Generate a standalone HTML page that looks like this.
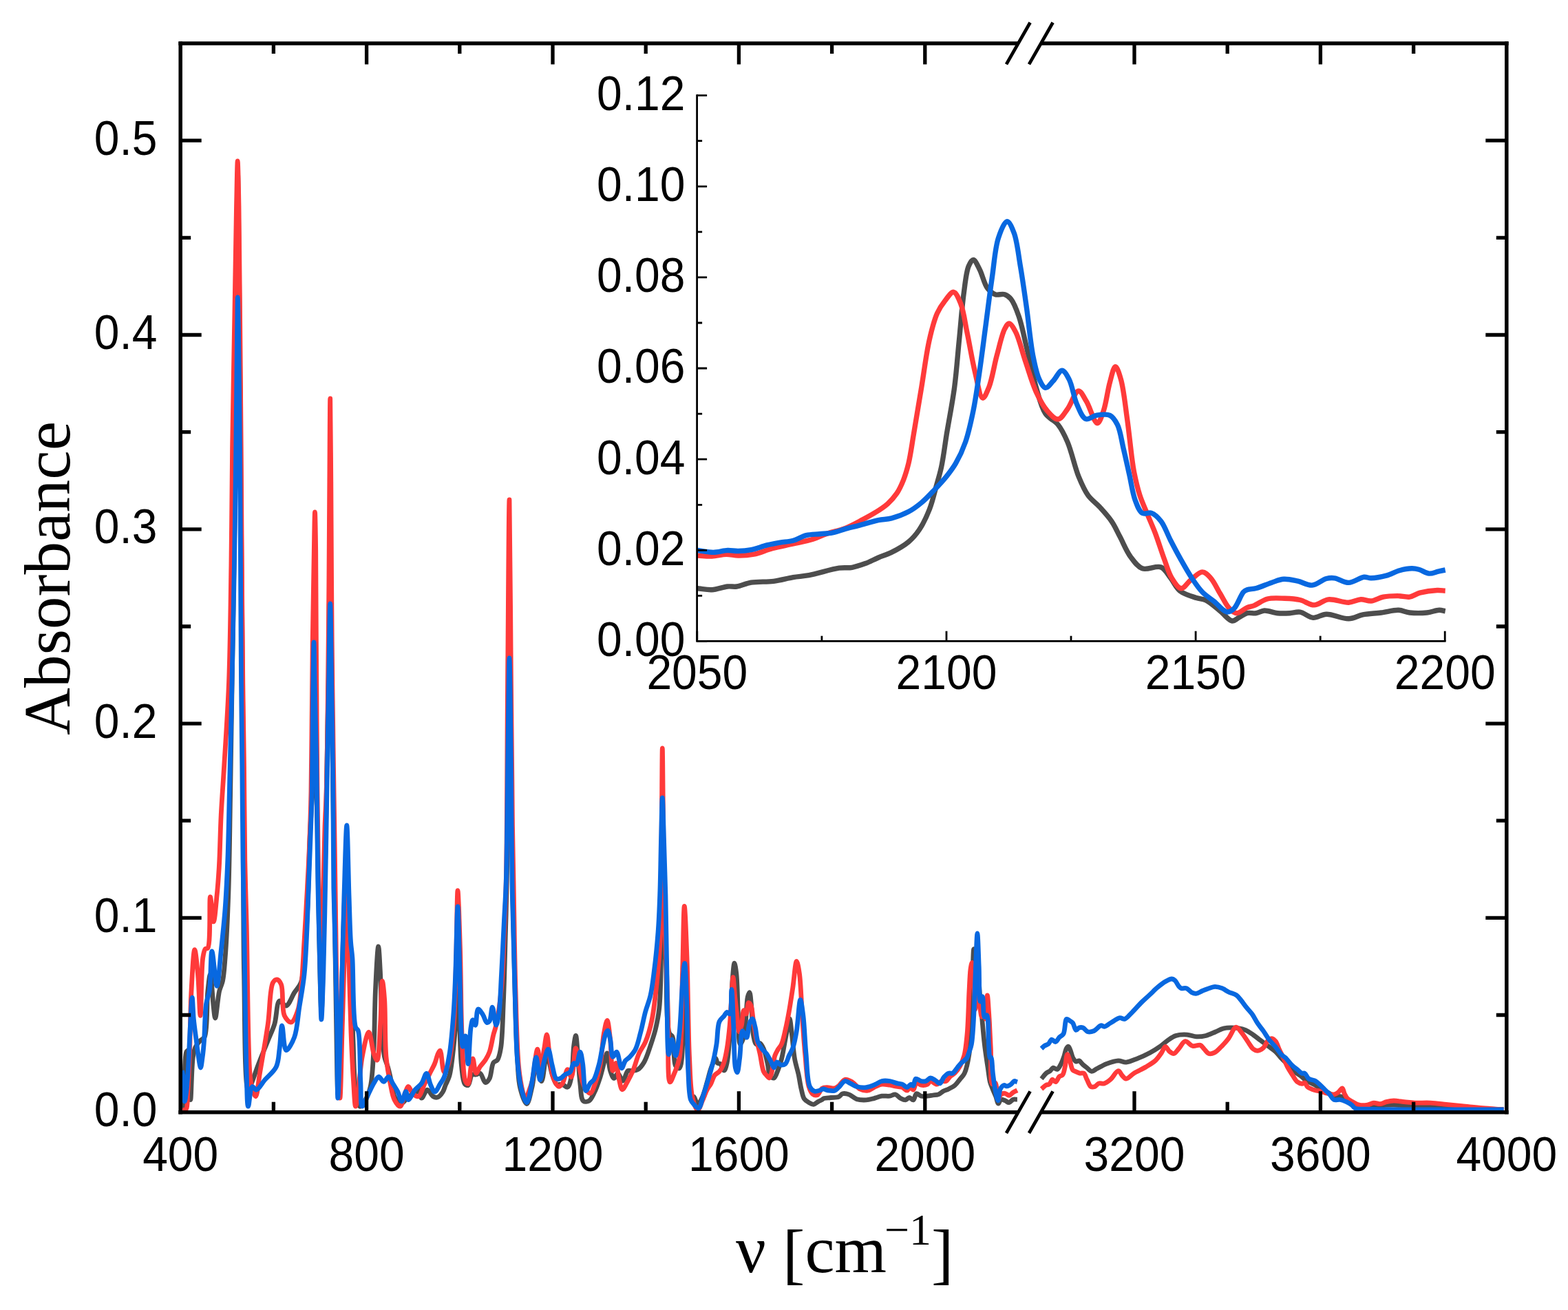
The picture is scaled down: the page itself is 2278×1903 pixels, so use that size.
<!DOCTYPE html><html><head><meta charset="utf-8"><title>Absorbance spectrum</title><style>html,body{margin:0;padding:0;background:#fff;}svg{display:block;}</style></head><body>
<svg width="2278" height="1903" viewBox="0 0 2278 1903">
<rect width="2278" height="1903" fill="#fff"/>
<path d="M264.5,1612 C265.4,1608.8 266.4,1607.2 267.2,1602.4 C269.3,1589.4 266.6,1535.6 270.8,1528.1 C271.8,1526.3 273.4,1525.2 274.4,1525.7 C278.5,1527.8 275.7,1597.6 276.8,1597.6 C277.8,1597.6 278.3,1548.7 280.4,1535.3 C281.4,1528.8 282,1525.1 284,1521 C285.8,1517.3 288.7,1513.9 291.1,1511.4 C293.1,1509.4 295.5,1509.7 297.1,1506.6 C301.9,1497.4 300,1456.2 301.9,1439.5 C303,1429.5 304.3,1415.6 305.5,1415.6 C307.2,1415.6 308.8,1451.9 310.3,1463.5 C311.1,1470.1 311.7,1479 312.7,1479 C314.3,1479 316.3,1449.3 318.7,1439.5 C320.2,1433.4 322.2,1431 323.5,1425.1 C325.4,1416.3 326,1405.7 327.1,1391.6 C329,1367.9 330.7,1330.5 331.9,1295.8 C333.3,1254.5 333.7,1207.1 334.5,1160 C335.4,1108.9 336.1,1054.9 337,1000 C337.9,941.8 339.1,879.1 340,820 C340.9,762.5 341.8,712.1 342.5,650 C343.4,574.7 344,472.5 344.5,400 C344.9,344.2 345,252 345.5,252 C346,252 346.9,344.2 347.5,400 C348.3,472.5 348.9,574.7 349.5,650 C350,712.1 350.5,762.5 351,820 C351.5,879.1 352.1,942.7 352.5,1000 C352.9,1052.3 353.2,1092.9 353.5,1150 C353.9,1226 353,1337.2 354.6,1415.6 C355.8,1477.9 355.1,1582 360.6,1583.2 C362,1583.5 363.7,1577.7 365.4,1573.7 C368.2,1567.2 371.4,1556.7 375,1547.3 C379.2,1536.2 385,1522.2 389.3,1511.4 C392.8,1502.6 396.2,1496.2 398.9,1487.4 C402,1477.3 401.8,1455.5 406.1,1453.9 C408.6,1453 412.6,1461.7 415.7,1461.1 C419.9,1460.3 423.9,1447.8 427.7,1441.9 C431,1436.7 434.9,1433.7 437.2,1427.5 C440.6,1418.5 440.6,1405.6 442,1391.6 C444,1371.8 445.5,1345.7 446.8,1319.8 C448.3,1289.3 448.8,1250.3 450,1220 C451,1194.6 452.6,1178.4 453.5,1150 C454.9,1105.7 455.1,980 456,980 C456.8,980 457.6,1061.8 458.5,1100 C459.3,1134.9 460.2,1163.3 461,1200 C461.9,1244.9 462.4,1302.8 463.5,1350 C464.5,1392.2 465.8,1470 467,1470 C468.2,1470 469.5,1392.2 470.5,1350 C471.7,1302.8 472.6,1250 473.5,1200 C474.4,1150 474.9,1098.2 476,1050 C477,1005.1 478.4,920 479.5,920 C480.6,920 481.7,1005.1 482.5,1050 C483.4,1098.2 483.8,1150 484.5,1200 C485.2,1250 485.8,1301.8 486.5,1350 C487.1,1394.9 487.7,1438.5 488.5,1480 C489.2,1518.2 489.9,1590 491,1590 C492.3,1590 494.5,1495.8 496,1450 C497.5,1405.9 498.4,1356.7 500,1320 C501.1,1293.1 502.7,1250 503.8,1250 C505,1250 505.9,1302.9 507,1330 C508.2,1358.1 509.7,1386.3 510.7,1415.6 C511.7,1446.6 511.9,1481.8 513,1511.4 C514,1537.1 514,1565.8 516.6,1583.2 C518.1,1593.4 519.5,1606.5 522.6,1607.2 C524.8,1607.7 528.6,1601.6 531,1597.6 C534,1592.5 536.3,1586.6 538.2,1578.4 C541.3,1564.9 541.8,1543.7 543,1523.4 C544.4,1498.4 544.2,1465.6 545.4,1439.5 C546.5,1416.6 548.4,1374.9 549.7,1374.9 C550.7,1374.9 551.8,1400.1 552.6,1415.6 C553.7,1436.2 553.8,1465.9 555,1487.4 C556,1505 556.3,1524.1 558.6,1535.3 C559.9,1541.6 562,1544.9 563.4,1549.7 C564.8,1554.5 565.6,1558.4 567,1564.1 C569,1572.5 570,1588.8 574.1,1595.2 C576.6,1599.1 580.6,1602.6 583.7,1602.4 C587,1602.2 589.9,1595.3 593.3,1592.8 C596.3,1590.6 600.4,1590.2 602.9,1588 C605.1,1586.1 606.3,1580.6 607.7,1580.8 C609.6,1581.1 610.3,1594.9 612.5,1595.2 C614.7,1595.5 617.9,1583.4 620.8,1583.2 C623.5,1583 626.3,1591.1 629.2,1592.8 C631.3,1594 633.5,1594.6 635.5,1594 C638.2,1593.2 641.4,1589.2 643.3,1586.2 C645.2,1583.3 645.7,1580 647.1,1576.5 C648.8,1572.3 651.2,1568.8 652.9,1562.9 C655.7,1553.1 657.1,1537.1 658.8,1522.3 C660.8,1504.7 662.6,1480.2 663.6,1464.1 C664.3,1452.7 664.4,1435 665,1435 C665.6,1435 666.3,1451.8 667,1464 C668.1,1484.6 668.2,1527.2 670.4,1547.4 C671.7,1559 672.1,1570.8 675.2,1574.6 C676.5,1576.2 678.7,1577.1 680.1,1576.5 C682.7,1575.4 683.1,1562.9 685.9,1561 C687.5,1559.9 689.8,1561.3 691.7,1561 C693.7,1560.7 695.7,1558.4 697.5,1559.1 C700.4,1560.2 702.7,1572.3 705.3,1572.6 C707.2,1572.9 709.5,1569.7 711.1,1566.8 C713.9,1561.9 713.9,1547.9 716.9,1543.6 C718.5,1541.3 721.1,1541.9 722.7,1539.7 C725.2,1536.2 726.3,1530.1 727.6,1522.3 C730.1,1507.2 730.3,1479 731.4,1454.4 C732.7,1425 733.5,1388 734.3,1357.5 C735.1,1330.2 735.7,1311.2 736.3,1280 C737.2,1232.5 737.8,1161.6 738.5,1100 C739.2,1035.1 739.8,900 740.5,900 C741.2,900 741.8,1035.1 742.5,1100 C743.2,1161.6 743.5,1222.2 744.5,1280 C745.4,1333.6 746.6,1388.2 748,1435 C749.1,1473.9 750,1514.9 751.8,1541.6 C752.9,1557.8 752.9,1569.3 755.7,1580.4 C757.9,1589.3 762.4,1603.7 765.3,1603.6 C768.2,1603.5 770.9,1587.3 773.1,1578.4 C775.5,1568.7 776.4,1547.6 778.9,1547.4 C781.1,1547.2 784.4,1570.8 786.7,1570.7 C789.7,1570.5 791.6,1532 794.4,1531.9 C796.8,1531.8 799.5,1553.2 802.2,1561 C804.1,1566.5 806.2,1572.8 808,1574.6 C808.7,1575.3 809.1,1575.3 810,1575.5 C811.6,1575.9 814.9,1574.9 817.3,1575.5 C819.8,1576.1 822.6,1580 824.6,1579.2 C827.3,1578.1 828.7,1570.9 830.1,1564.6 C832.5,1553.7 832.2,1530 833.7,1519 C834.5,1512.8 835.7,1504.4 836.5,1504.4 C837.6,1504.4 838.3,1518.9 839.2,1528.1 C840.4,1540.8 841.1,1560.7 842.8,1573.7 C844.1,1583.5 843.7,1596.2 847.4,1599.3 C849.5,1601 853.2,1600.6 855.6,1599.3 C858.6,1597.7 860.6,1592.8 862.9,1588.3 C866.1,1582 869.3,1572.9 872,1564.6 C874.8,1555.9 877.3,1543.4 879.3,1537.2 C880.4,1534 881.2,1529.8 882.1,1529.9 C883.7,1530.1 884.4,1548.9 886.6,1555.5 C888.1,1560 890.1,1566.2 892.1,1566.4 C893.8,1566.6 895.7,1559 897.6,1559.1 C899.9,1559.2 902.6,1570.2 904.9,1570.1 C907.5,1569.9 909.3,1557.3 912.2,1555.5 C913.9,1554.5 915.6,1555.7 917.7,1555.5 C920.4,1555.2 924,1555.3 926.8,1553.6 C930.2,1551.5 933.2,1547.3 935.9,1542.7 C939.5,1536.5 942.3,1526.9 945,1519 C947.7,1511.1 950.2,1503.8 952.3,1495.3 C954.6,1485.7 956.5,1476.8 957.8,1464.2 C959.8,1445 959.8,1421.3 960.5,1391.2 C961.7,1342.5 961.7,1200 962.5,1200 C963.1,1200 963.7,1266.7 964.5,1300 C965.3,1333.3 966.2,1366.6 967.5,1400 C968.8,1433.5 967.5,1488.2 972.4,1500.7 C973.7,1504 975.7,1503.2 977,1506.2 C980.1,1513.4 977.7,1542.1 981.5,1548.2 C983,1550.6 985.5,1552.5 987,1551.8 C991.3,1549.8 991.2,1519.1 992.5,1500.7 C994,1479.1 994.1,1430 995,1430 C995.8,1430 996.7,1462.2 997.5,1480 C998.4,1500.6 998.2,1526.4 999.8,1546.4 C1001.1,1563.1 1002,1587.4 1005.3,1592 C1006.2,1593.2 1007.2,1592.5 1008.2,1593.4 C1010.1,1595.2 1011.7,1604.3 1013.7,1604.4 C1015.8,1604.5 1018.5,1597.8 1020.5,1593.4 C1023.2,1587.5 1025.3,1578.6 1027.4,1571.5 C1029.4,1564.9 1030.6,1558.3 1032.8,1552.4 C1034.8,1547 1038,1537.3 1039.7,1537.3 C1040.9,1537.3 1041,1542.9 1042.4,1544.2 C1043.5,1545.2 1045.2,1544.5 1046.5,1545.5 C1048.6,1547.2 1050.4,1555.2 1052,1555.1 C1053.6,1555 1055,1549.1 1056.1,1544.2 C1058.3,1535 1059,1519.2 1060.2,1503.1 C1061.9,1480.4 1062.7,1439.6 1064.3,1421 C1065.1,1411.4 1066,1399.2 1067,1399.2 C1067.9,1399.2 1069,1407.5 1069.8,1414.2 C1071.4,1427.7 1071.5,1457.4 1072.5,1475.8 C1073.3,1490.9 1072.8,1516.2 1075.2,1516.8 C1076.3,1517.1 1078.2,1513.2 1079.3,1510 C1081.4,1504.1 1082.3,1492.3 1083.4,1482.6 C1084.6,1471.9 1084.6,1455.4 1086.2,1448.4 C1087,1445.2 1088.1,1441.5 1088.9,1441.6 C1090.2,1441.8 1090.9,1454.1 1091.7,1462.1 C1092.8,1473.4 1092.6,1493.2 1094.4,1503.1 C1095.5,1509 1096.2,1515.5 1098.5,1516.8 C1100,1517.6 1102.4,1514.8 1104,1515.4 C1106.1,1516.2 1107.8,1520.1 1109.4,1523.6 C1111.7,1528.8 1113.3,1537.4 1114.9,1544.2 C1116.5,1550.7 1116.4,1560 1119,1563.3 C1120.4,1565.2 1122.9,1566.5 1124.5,1566 C1126.8,1565.2 1128.3,1559.2 1130,1555.1 C1132,1550.3 1133.8,1545 1135.4,1538.7 C1137.5,1530.5 1139.2,1518.8 1140.9,1510 C1142.4,1502.6 1143.8,1494.9 1145,1489.4 C1145.8,1485.6 1146.4,1479.9 1147.1,1479.9 C1148.2,1479.9 1149.4,1494.5 1150.5,1503.1 C1151.9,1513.7 1152.7,1528.3 1154.6,1538.7 C1156.1,1546.9 1158.4,1553.3 1160,1560.6 C1161.6,1567.9 1162.6,1576.1 1164.2,1582.5 C1165.5,1587.6 1166.1,1592.8 1168.3,1596.1 C1170,1598.7 1172.7,1600.2 1175.1,1601.6 C1177.3,1602.9 1179.7,1604.6 1181.9,1604.4 C1184.2,1604.2 1186.6,1601.4 1188.8,1600.2 C1190.7,1599.2 1192.9,1598.4 1194.3,1597.5 C1195.3,1596.9 1195.6,1596.1 1196.8,1595.6 C1199,1594.7 1203.6,1594.9 1207.1,1594.5 C1210.8,1594.1 1215.5,1594.5 1218.5,1593.3 C1220.9,1592.3 1221.9,1589.4 1224.2,1588.8 C1226.8,1588.1 1230.2,1588.8 1233.3,1589.9 C1237,1591.2 1240.6,1595.4 1244.7,1596.7 C1248.9,1598.1 1254.1,1598.1 1258.4,1597.9 C1262.4,1597.7 1266,1596.5 1269.8,1595.6 C1273.6,1594.6 1277.4,1592.8 1281.2,1592.2 C1285,1591.7 1289.2,1592.7 1292.6,1592.2 C1295.5,1591.8 1298,1589.5 1300.6,1589.9 C1303.4,1590.4 1305.9,1594.2 1308.6,1595.6 C1310.9,1596.8 1313.3,1598.1 1315.4,1597.9 C1317.4,1597.7 1319.2,1594.5 1321.1,1594.5 C1323,1594.5 1325.2,1598.4 1326.8,1597.9 C1328.8,1597.3 1329.3,1589.5 1331.4,1588.8 C1333.2,1588.2 1335.7,1591.6 1338.2,1592.2 C1341,1592.9 1344.5,1592.4 1347.4,1592.2 C1350.1,1592 1352.7,1591.4 1355.3,1591 C1358,1590.6 1360.8,1590.8 1363.3,1589.9 C1365.8,1589 1367.8,1586.6 1370.2,1585.3 C1372.7,1584 1375.4,1583.3 1378.1,1581.9 C1381.1,1580.4 1384.7,1578.8 1387.4,1576.5 C1390.2,1574.1 1392.5,1570.5 1394.8,1567.6 C1397,1564.8 1399.4,1563.1 1401.2,1559.2 C1404.3,1552.8 1406.3,1542.1 1408,1531 C1410.3,1515.5 1410.5,1494.5 1411.4,1474.6 C1412.4,1452.4 1412.7,1421.6 1413.4,1404 C1413.8,1393.4 1414.1,1378.6 1414.8,1378.6 C1415.3,1378.6 1415.6,1391.4 1416.8,1395.5 C1417.5,1398 1418.7,1398.3 1419.5,1401.2 C1421.6,1409 1422.4,1433 1423.6,1446.3 C1424.6,1456.8 1425.3,1464.2 1426.3,1474.6 C1427.5,1487.3 1428.7,1503.6 1430.3,1516.9 C1431.7,1528.8 1433.6,1540.8 1435.1,1550.8 C1436.3,1558.7 1436.9,1566.2 1438.4,1572 C1439.5,1576.1 1440.9,1578.9 1442.3,1582.4 C1443.7,1585.9 1445.3,1589.3 1446.7,1592.8 C1448,1596.2 1449,1602.9 1450.4,1603.1 C1451.5,1603.2 1452.4,1597.9 1454.1,1597.2 C1455.7,1596.6 1458.1,1598 1460.1,1598.7 C1462.1,1599.5 1464.1,1601.9 1466,1601.7 C1468,1601.5 1469.8,1597.9 1471.9,1597.2 C1473.8,1596.6 1475.9,1597.2 1477.9,1597.2" fill="none" stroke="#4d4d4d" stroke-width="6.8" stroke-linejoin="round" stroke-linecap="butt"/>
<path d="M1513,1567.1 C1515.3,1564.4 1517.5,1561.1 1519.8,1559.1 C1521.7,1557.5 1523.8,1557 1525.5,1555.7 C1527.2,1554.4 1528.4,1551.5 1530.1,1551.1 C1531.8,1550.8 1534.1,1553.9 1535.8,1553.4 C1538,1552.8 1539.9,1548.4 1541.5,1545.4 C1543.3,1542 1544.7,1537.8 1546,1534 C1547.3,1530.2 1548,1524.8 1549.5,1522.6 C1550.3,1521.4 1551.5,1520.1 1552.3,1520.3 C1553.4,1520.5 1554.3,1523.8 1555.2,1526 C1556.4,1528.9 1557.1,1533.5 1558.6,1536.3 C1559.9,1538.6 1561.5,1541.4 1563.2,1542 C1564.6,1542.5 1566.2,1540.5 1567.7,1540.9 C1569.6,1541.4 1571.4,1544.9 1573.4,1546.6 C1575.3,1548.2 1577.1,1549.6 1579.1,1551.1 C1581.3,1552.8 1583.6,1556.1 1586,1556.3 C1588.5,1556.5 1590.9,1553.8 1593.9,1552.3 C1597.8,1550.3 1602.7,1547.3 1607.6,1545.4 C1612.9,1543.4 1619.6,1541.1 1624.7,1540.9 C1628.9,1540.8 1632,1543.4 1636.1,1543.1 C1641.3,1542.8 1647.6,1539.6 1653.2,1537.4 C1659,1535.1 1664.9,1532.4 1670.3,1529.5 C1675.5,1526.7 1680.7,1523.5 1685.2,1520.3 C1689.3,1517.4 1692.7,1513.9 1696.6,1511.2 C1700.4,1508.6 1703.8,1505.9 1708.2,1504.5 C1713,1503 1719.4,1502.8 1724.6,1503.1 C1729.4,1503.4 1733.7,1505.7 1738.3,1505.9 C1742.8,1506.1 1747.5,1505.6 1752,1504.5 C1756.6,1503.4 1761.4,1500.8 1765.7,1499 C1769.6,1497.4 1772.9,1495.2 1776.6,1494.2 C1780.2,1493.2 1783.9,1493 1787.6,1492.9 C1791.2,1492.8 1794.9,1492.9 1798.5,1493.5 C1802.2,1494.1 1805.9,1494.8 1809.4,1496.3 C1813.2,1497.9 1816.8,1500.6 1820.4,1503.1 C1824.1,1505.6 1827.7,1508.6 1831.3,1511.3 C1835,1514 1838.6,1516.8 1842.3,1519.5 C1845.9,1522.2 1850,1524.7 1853.2,1527.7 C1856.3,1530.6 1858.6,1534.3 1861.4,1537.3 C1864.1,1540.2 1866.9,1542.6 1869.6,1545.5 C1872.4,1548.5 1874.6,1552.3 1877.8,1555.1 C1881.1,1558 1885.6,1559.9 1889.1,1562.5 C1892.4,1564.9 1894.9,1567.9 1898.3,1570.1 C1902,1572.5 1906.8,1574 1910.5,1576.2 C1913.8,1578.1 1916.5,1580.5 1919.6,1582.3 C1922.6,1584 1925.7,1585.4 1928.8,1586.9 C1931.8,1588.4 1934.7,1590.4 1937.9,1591.4 C1941.2,1592.4 1945.2,1591.6 1948.6,1593 C1952.3,1594.5 1956,1598.2 1959.2,1600.6 C1962,1602.7 1963.8,1605.4 1966.9,1606.7 C1970.3,1608.1 1974.7,1608.1 1979,1608.2 C1983.8,1608.3 1988.3,1607.1 1994.3,1606.7 C2002.7,1606.1 2015.4,1605 2024.8,1605.1 C2033,1605.2 2039.4,1606.2 2047.6,1606.7 C2057,1607.3 2066.9,1607.7 2078.1,1608.2 C2091.8,1608.8 2110.1,1609.3 2123.8,1609.7 C2135,1610 2144.1,1610.1 2154.3,1610.5 C2164.5,1610.9 2174.6,1611.5 2184.8,1612" fill="none" stroke="#4d4d4d" stroke-width="6.8" stroke-linejoin="round" stroke-linecap="butt"/>
<path d="M265.5,1613 C267.2,1612.3 269.3,1612.6 270.5,1611 C272.9,1607.8 271.9,1597.3 272.5,1590 C273.1,1582 273.5,1574 274,1565 C274.5,1554.3 275,1544.4 275.5,1530 C276.3,1506.9 276.5,1466.5 278,1439.5 C279.2,1417.5 281,1379.6 282.8,1379.6 C284.2,1379.6 286.2,1402.1 287.5,1415.6 C289.2,1433 290,1475.4 291.1,1475.4 C292.4,1475.4 292.2,1407.4 294.7,1391.6 C295.7,1385.2 296.4,1380.4 298.3,1378.4 C299.3,1377.3 300.9,1378.6 301.9,1377.2 C306.5,1371.2 303.7,1303.1 305.5,1303 C306.8,1302.9 308.7,1338.9 310.3,1338.9 C311.9,1338.9 313.9,1312.5 315.1,1300.6 C316.2,1290.4 316.9,1280.8 317.5,1271.9 C318.1,1264.1 318.4,1259.3 318.8,1250 C319.6,1233.9 320.1,1206.5 321.2,1184 C322.4,1160.5 324.1,1139.1 325.7,1112 C327.8,1077.1 330.8,1035.5 332.5,992 C334.5,940.1 335,878 335.9,821 C336.7,764 336.8,709.2 337.6,650 C338.5,585.9 340,511.9 341,450 C341.9,396.4 342.7,339.9 343.5,300 C344.1,273.5 344.6,234 345.2,234 C345.8,234 346.5,273.5 347,300 C347.7,339.9 348,396.4 348.5,450 C349.1,511.9 349.7,585.9 350.2,650 C350.6,709.2 350.9,764 351.3,821 C351.7,878 352.2,940 352.8,992 C353.3,1035.5 354,1070.6 354.5,1112 C355,1156.4 355.1,1208.4 355.8,1250 C356.4,1284.2 357.3,1306.1 358.2,1343.7 C359.6,1400.8 359.9,1523.4 363,1559.3 C364,1571.3 364.7,1577.1 366.6,1583.2 C367.9,1587.2 370,1593 371.4,1592.8 C373.9,1592.4 375.1,1572.6 377.4,1559.3 C380.7,1539.9 386,1510.3 389.3,1487.4 C392.3,1466.6 391.7,1436 396.5,1427.5 C398.2,1424.5 400.6,1422.6 402.5,1422.8 C404.6,1423 406.9,1426.2 408.5,1430 C412,1438.4 408.9,1466.3 413.3,1475.4 C415.7,1480.4 419.9,1485.4 422.9,1485 C426.4,1484.5 430.2,1474.9 432.5,1468.3 C435.4,1460.2 435.8,1451.3 437.2,1439.5 C439.3,1421 440.5,1392.1 442,1367.7 C443.6,1342.3 445.2,1314.2 446.5,1290 C447.6,1268.7 448.6,1251.4 449.5,1230 C450.5,1205.3 451.3,1183.2 452,1150 C453.1,1095.2 453.4,995.6 454.2,932 C454.8,882.5 455.7,834.7 456.3,800 C456.7,777.4 457.1,744 457.5,744 C457.9,744 458.4,777.4 458.7,800 C459.2,834.7 459.1,882.5 459.4,932 C459.8,995.6 460.3,1084.1 461,1150 C461.6,1204.7 462,1252.3 463,1300 C463.9,1343.6 465.4,1425 466.5,1425 C467.6,1425 468.5,1339.3 469.5,1300 C470.4,1264.8 471,1227.6 472,1200 C472.7,1180.5 473.5,1172.5 474.2,1150 C475.6,1102.9 476.4,1005.8 477.2,932 C478,855.9 478.3,764.9 478.8,700 C479.1,653.2 479.4,579 479.7,579 C480,579 480.4,653.2 480.8,700 C481.3,764.9 481.5,855.9 482.2,932 C482.9,1005.8 484.2,1091.3 485,1150 C485.6,1189.7 486,1213.3 486.5,1250 C487.1,1294.9 487.4,1346.7 488.5,1400 C489.7,1460.8 492.3,1595.2 493.9,1595.2 C495,1595.2 496,1532.1 497,1500 C498,1467.1 498.9,1434 500,1400 C501.1,1364.7 502.4,1292 503.6,1292 C504.8,1292 505.9,1364.7 507,1400 C508,1434 508.8,1469.6 510,1500 C511,1525.4 512.2,1550.3 513.5,1570 C514.5,1584.4 515.2,1607.1 516.6,1607.2 C517.3,1607.3 518.2,1602.2 519,1597.6 C521.1,1585.9 522.8,1553.1 526.2,1535.3 C528.8,1521.6 532.9,1499.4 535.8,1499.4 C538.5,1499.4 540.4,1523.2 543,1530.5 C544.5,1534.7 546.5,1540.4 547.8,1540.1 C550.7,1539.5 551.4,1505.7 552.6,1487.4 C554,1467.5 554,1425.2 555.4,1425.1 C556.3,1425.1 557.8,1440.2 558.6,1451.5 C560.1,1471.6 558.9,1512.8 561,1535.3 C562.4,1550.6 564.7,1562.5 567,1573.7 C568.8,1582.7 569.9,1591.7 573,1597.6 C575.2,1601.9 578.9,1607.6 581.3,1607.2 C584.3,1606.7 586.2,1593.3 588.5,1588 C590.2,1584.2 591.5,1578.5 593.3,1578.4 C595.1,1578.3 596.8,1585.6 599.3,1588 C601.6,1590.3 605.2,1593.6 607.7,1592.8 C611.5,1591.7 614.2,1579.6 617.2,1573.7 C619.8,1568.6 622,1564.1 624.4,1559.3 C626.8,1554.5 629.6,1549.8 631.6,1544.9 C633.6,1540.2 634.7,1533.8 636.4,1530.5 C637.4,1528.5 638.5,1525.9 639.4,1526.1 C641.7,1526.6 642.5,1556.6 645.2,1557.1 C646.8,1557.4 649.3,1552.2 651,1547.4 C654.7,1536.9 656.9,1513.9 658.8,1493.2 C661.3,1465.6 661.6,1429.1 662.6,1396.3 C663.7,1362.6 664,1293.6 665,1293.6 C665.9,1293.6 667.4,1345.8 668.4,1376.9 C669.7,1416.6 669.5,1476.8 671.4,1512.6 C672.6,1536 672.6,1562.9 676.2,1570.7 C677.3,1573.1 679,1574.9 680.1,1574.6 C682.3,1573.9 682.7,1558 684,1551.3 C685,1546.2 685.8,1537.8 686.9,1537.8 C688.3,1537.8 689.5,1558.7 691.7,1559.1 C693.3,1559.4 695.3,1552.6 697.5,1549.4 C699.8,1546.1 703,1543.2 705.3,1539.7 C707.6,1536.1 709.4,1532.8 711.1,1528.1 C713.5,1521.4 715.1,1510 716.9,1502.9 C718.3,1497.7 719.5,1495.4 720.8,1489.3 C723.4,1477.3 726.6,1454.8 728.5,1435 C730.8,1411.5 731.3,1383.3 732.4,1357.5 C733.5,1331.7 734.5,1313.9 735.3,1280 C736.8,1215.7 736.7,1092.8 737.5,1000 C738.3,908.2 739.2,726 740,726 C740.8,726 741.7,915.8 742.5,1000 C743.2,1071.9 743.8,1148.3 744.5,1200 C745,1232.7 745.4,1249 746,1280 C746.8,1323.2 747.5,1387 748.9,1435 C750.1,1476.6 750.9,1523.9 753.7,1551.3 C755.3,1566.4 757.4,1577.8 759.5,1586.2 C760.7,1591.2 762,1597.8 763.4,1597.8 C764.7,1597.8 765.9,1591.8 767.3,1588.1 C769.1,1583.2 771.3,1578 773.1,1570.7 C776,1559 778.6,1524.2 780.9,1524.2 C782.7,1524.2 784.1,1551.3 785.7,1551.3 C787.3,1551.3 789,1532.7 790.5,1524.2 C791.9,1516.7 793.2,1502.9 794.4,1502.9 C795.8,1502.9 796.8,1521.8 798.3,1531.9 C800,1543 800.8,1558.5 804.1,1566.8 C806.2,1572 809.3,1578.1 811.9,1578.4 C813.7,1578.6 815.6,1576.1 817.3,1573.7 C820.2,1569.5 822.2,1553.7 824.6,1553.6 C826.4,1553.5 828.5,1564.9 830.1,1564.6 C833.1,1564.1 834.4,1522.6 836.5,1522.6 C838.3,1522.6 839.8,1542.3 841.9,1551.8 C844,1561.1 845.7,1572.8 849.2,1579.2 C851.5,1583.4 855,1588.6 857.4,1588.3 C860.2,1587.9 862.5,1579.5 864.7,1573.7 C867.6,1566.1 870,1556.7 872,1546.4 C874.5,1533.2 875.3,1512.4 877.5,1500.7 C878.9,1493.2 880.7,1482.4 882.1,1482.5 C883.8,1482.6 885.3,1499.6 886.6,1509.9 C888.2,1523.1 887.9,1555.1 890.3,1555.5 C891.5,1555.7 893.6,1544.4 894.9,1544.5 C896.8,1544.7 897.7,1561.3 899.4,1568.2 C900.8,1573.7 901.9,1582.5 904,1582.8 C906.1,1583.1 909.7,1574.6 912.2,1570.1 C914.8,1565.5 917.1,1561.1 919.5,1555.5 C922.6,1548.2 925.2,1537.4 928.6,1529.9 C931.4,1523.7 935,1520 937.7,1513.5 C941.3,1505 944.4,1494.4 946.9,1482.5 C950.2,1466.9 952.2,1447.3 954.2,1427.7 C956.5,1405.1 958.4,1383.6 959.6,1354.7 C961.4,1312.7 960.8,1247.5 961.3,1200 C961.7,1159.4 961.9,1087 962.3,1087 C962.7,1087 963.1,1161 963.6,1200 C964.1,1241.8 964.5,1290.6 965.5,1330 C966.3,1362.8 967.9,1393 968.8,1420 C969.5,1442 969.9,1457.9 970.6,1480 C971.4,1507.4 969.2,1571 973.3,1571.9 C974.9,1572.3 977.7,1564 979.7,1559.1 C982.3,1552.9 985.1,1547.7 987,1537.2 C991.5,1512.5 990.3,1448.7 991.6,1409.5 C992.7,1376 993.1,1316.4 994.3,1316.4 C995.3,1316.4 996.9,1362.1 998,1391.2 C999.5,1431.8 999.7,1499.5 1001.6,1537.2 C1002.8,1561.1 1002.8,1582.1 1006.2,1595.6 C1008.1,1603.2 1011.2,1612.5 1013.7,1612.6 C1016,1612.7 1018.3,1603.7 1020.5,1598.9 C1022.9,1593.7 1025,1586.9 1027.4,1582.5 C1029.2,1579.2 1031.1,1577.4 1032.8,1574.3 C1034.8,1570.7 1035.9,1565 1038.3,1561.9 C1040.2,1559.4 1043.1,1558.8 1045.1,1556.5 C1047.3,1553.9 1049,1550.9 1050.6,1546.9 C1052.9,1541 1054.6,1532.2 1056.1,1523.6 C1057.9,1513.3 1059.1,1501.3 1060.2,1489.4 C1061.4,1476.4 1062,1460.8 1062.9,1448.4 C1063.6,1438 1064.2,1419.7 1065,1419.7 C1065.8,1419.7 1066.7,1439.2 1067.7,1448.4 C1068.6,1456.9 1069.5,1464.7 1070.5,1473 C1071.5,1481.6 1072.3,1498.8 1073.9,1499 C1074.9,1499.1 1076.3,1493.3 1077.3,1489.4 C1078.8,1483.7 1078.9,1468 1080.7,1467.6 C1081.7,1467.4 1083.1,1473.2 1084.1,1473 C1085.7,1472.7 1085.9,1457 1087.6,1456.6 C1088.6,1456.4 1090.1,1458.6 1091,1460.7 C1092.9,1465 1093.2,1475.1 1094.4,1482.6 C1095.7,1490.6 1096.9,1499.1 1098.5,1507.2 C1100.1,1515.1 1102.2,1522.5 1104,1530.5 C1105.9,1538.9 1107,1551.2 1109.4,1556.5 C1110.6,1559.2 1112.1,1560.4 1113.5,1562 C1114.8,1563.5 1116.5,1566.2 1117.6,1566 C1118.8,1565.8 1119.5,1563.2 1120.4,1560.6 C1122.3,1555.1 1123.7,1539.6 1125.9,1533.2 C1127.2,1529.6 1128.5,1527.7 1130,1525 C1131.6,1522.2 1133.8,1520.3 1135.4,1516.8 C1137.7,1511.6 1139.2,1503.7 1140.9,1496.3 C1142.9,1487.9 1144.7,1478.6 1146.4,1468.9 C1148.3,1458.1 1150,1446.4 1151.8,1434.7 C1153.7,1422.3 1155.4,1396.5 1157.3,1396.4 C1158.6,1396.3 1160.3,1406.4 1161.4,1414.2 C1163.5,1428.5 1164.1,1455.9 1165.5,1475.8 C1166.8,1494.6 1167.9,1512.9 1169.6,1530.5 C1171.2,1547 1172.1,1568.3 1175.1,1578.4 C1176.6,1583.5 1178.1,1587.4 1180.6,1589.3 C1182.5,1590.7 1185.4,1591.5 1187.4,1590.7 C1190.1,1589.7 1191.6,1582.9 1194.3,1581.1 C1196.4,1579.7 1198.7,1579.7 1201.4,1579.6 C1204.7,1579.4 1209.7,1581.5 1212.8,1580.8 C1215.1,1580.3 1216.5,1579 1218.5,1577.4 C1221.3,1575.2 1224.2,1569 1227.6,1568.2 C1230.7,1567.4 1234.6,1569.7 1237.9,1571.6 C1241.9,1573.9 1245.2,1579.8 1249.3,1581.9 C1252.9,1583.7 1257.2,1584.7 1260.7,1584.2 C1264,1583.8 1266.6,1581.1 1269.8,1579.6 C1273.4,1578 1277.3,1575.6 1281.2,1575.1 C1284.9,1574.6 1288.8,1575.6 1292.6,1576.2 C1296.4,1576.8 1300.7,1577.9 1304,1578.5 C1306.6,1579 1308.7,1578.7 1310.9,1579.6 C1313.3,1580.5 1315.7,1584.4 1317.7,1584.2 C1319.5,1584 1320.7,1579.7 1322.3,1579.6 C1323.8,1579.5 1325.5,1583.4 1326.8,1583.1 C1328.7,1582.6 1329.2,1573.6 1331.4,1572.8 C1333.2,1572.2 1335.7,1575.8 1338.2,1576.2 C1341,1576.7 1345,1576.3 1347.4,1575.1 C1349.4,1574.1 1350,1570.8 1351.9,1570.5 C1354.3,1570.1 1358.2,1575.3 1361,1575.1 C1363.5,1574.9 1365.5,1571.2 1367.9,1570.5 C1370.1,1569.8 1372.7,1571.4 1374.7,1570.5 C1377,1569.4 1378.3,1565.7 1380.4,1563.7 C1382.5,1561.8 1385.2,1560.9 1387.4,1558.7 C1390.1,1556 1392.7,1552.2 1394.8,1548.3 C1397.2,1543.9 1399.2,1539.5 1400.8,1533.5 C1403.1,1524.8 1404.1,1513.4 1405.2,1500.8 C1406.7,1483.7 1407.1,1457 1408,1440 C1408.7,1427.6 1409,1415.5 1410,1408 C1410.6,1403.8 1411.5,1398.3 1412.1,1398.3 C1413,1398.3 1413.8,1411.4 1414.5,1420 C1415.5,1432.5 1416,1466 1416.8,1466 C1417.4,1466 1417.9,1448.3 1418.5,1440 C1419,1432.4 1419.6,1418 1420.2,1418 C1421,1418 1421.8,1444.3 1423,1455 C1423.9,1463.3 1425.1,1477 1426.3,1477 C1427.3,1477 1428.7,1460 1429.6,1460 C1430.6,1460 1431,1480 1431.7,1480 C1432.6,1480 1433.5,1446 1434.4,1446 C1435.1,1446 1435.8,1460.4 1436.5,1470 C1437.5,1484.2 1438.4,1505.4 1439.3,1523 C1440.2,1540.4 1438,1572.8 1441.8,1575 C1442.9,1575.7 1444.8,1572.4 1445.9,1573 C1448.6,1574.4 1448,1597.7 1449.9,1598 C1451.1,1598.2 1452.1,1591.4 1454.1,1589.8 C1455.7,1588.5 1458.1,1588.1 1460.1,1588.3 C1462.1,1588.5 1464.1,1591.5 1466,1591.3 C1468,1591.1 1469.9,1588.1 1471.9,1586.8 C1473.8,1585.6 1475.9,1584.9 1477.9,1583.9" fill="none" stroke="#ff3a3a" stroke-width="6.8" stroke-linejoin="round" stroke-linecap="butt"/>
<path d="M1513,1581.9 C1515.3,1580 1517.6,1577.3 1519.8,1576.2 C1521.4,1575.4 1523,1576.1 1524.4,1575.1 C1526.2,1573.8 1527.2,1568.5 1528.9,1568.2 C1530.3,1568 1532,1571.9 1533.5,1571.7 C1535.5,1571.4 1537.2,1565.4 1539.2,1563.7 C1540.7,1562.4 1542.6,1562.9 1543.8,1561.4 C1545.7,1559.2 1546.2,1554.3 1547.2,1550 C1548.5,1544.6 1549.2,1531.9 1550.6,1531.7 C1551.6,1531.6 1552.9,1536.6 1554,1539.7 C1555.5,1543.8 1556.4,1551.9 1558.6,1554.5 C1559.9,1556 1561.6,1556.1 1563.2,1556.8 C1565,1557.6 1567,1558.7 1568.9,1559.1 C1570.8,1559.5 1573,1558.1 1574.6,1559.1 C1576.7,1560.4 1577.5,1565.1 1579.1,1568.2 C1580.9,1571.5 1582.4,1577.1 1584.8,1578.5 C1586.5,1579.5 1588.7,1579.1 1590.5,1578.5 C1592.5,1577.8 1594,1574.7 1596.2,1573.9 C1598.5,1573.1 1601.6,1574.7 1604.2,1573.9 C1607.3,1573 1610.3,1570.7 1613.3,1568.2 C1617.1,1565 1621.6,1555.6 1624.7,1555.7 C1627,1555.7 1628.4,1560.5 1630.4,1562.5 C1632.2,1564.3 1633.8,1567 1636.1,1567.1 C1639.2,1567.2 1643.2,1561.7 1647.5,1559.1 C1652.5,1556 1659.3,1553.2 1664.6,1550 C1669.5,1547.1 1674.4,1544.4 1678.3,1540.9 C1681.9,1537.6 1684.8,1533.2 1687.4,1529.5 C1689.6,1526.3 1691.1,1520.4 1693.1,1520.3 C1694.9,1520.2 1696.6,1525.5 1698.8,1527.2 C1700.8,1528.8 1703.4,1530.9 1705.5,1530.5 C1707.9,1530.1 1709.9,1526.2 1712.3,1523.6 C1715.3,1520.4 1718.4,1513.2 1721.9,1512.7 C1725.2,1512.2 1729,1518.7 1732.8,1519.5 C1736.3,1520.3 1741,1517.2 1743.8,1518.2 C1746.2,1519 1747.3,1521.7 1749.2,1523.6 C1751.4,1525.8 1753.5,1529.7 1756.1,1530.5 C1758.5,1531.3 1761.6,1530.4 1764.3,1529.1 C1767.6,1527.6 1770.7,1524 1773.9,1520.9 C1777.5,1517.3 1781.3,1513.1 1784.8,1508.6 C1788.6,1503.6 1792.2,1492.6 1795.8,1492.2 C1798.6,1491.9 1801.3,1497.2 1804,1500.4 C1807.2,1504.3 1810.6,1510 1813.5,1514.1 C1816,1517.6 1817.8,1521.5 1820.4,1523.6 C1822.5,1525.2 1824.8,1526.5 1827.2,1526.4 C1829.8,1526.3 1833,1524.4 1835.4,1522.3 C1838.2,1519.7 1839.8,1513.6 1842.3,1511.3 C1844,1509.8 1845.9,1508.4 1847.7,1508.6 C1849.6,1508.8 1851.6,1510.7 1853.2,1512.7 C1855.5,1515.5 1856.8,1521 1858.7,1525 C1860.5,1528.8 1862.3,1532 1864.2,1536 C1866.4,1540.6 1868.6,1546.5 1871,1551 C1873.1,1555 1875.5,1558.4 1877.8,1561.9 C1880,1565.2 1882.1,1569.4 1884.7,1571.5 C1886.8,1573.1 1889.5,1574.2 1891.5,1574.3 C1893,1574.3 1894.4,1572.5 1895.6,1572.9 C1897.2,1573.5 1897.7,1577.5 1899.8,1579.2 C1902.4,1581.3 1907.2,1582.8 1910.5,1583.8 C1913.2,1584.6 1915.6,1584.7 1918.1,1585.3 C1920.6,1585.9 1922.8,1586.9 1925.7,1587.6 C1929.3,1588.5 1934.6,1590.4 1937.9,1589.9 C1940.3,1589.6 1942.1,1588.3 1944,1586.9 C1946.2,1585.3 1948.6,1580.5 1950.1,1580.8 C1951.6,1581.1 1951.9,1585.9 1953.1,1588.4 C1954.4,1591 1955.7,1594 1957.7,1596 C1959.7,1598 1962.6,1599.1 1965.3,1600.6 C1968.2,1602.2 1971.1,1604.3 1974.5,1605.1 C1978.2,1606 1983,1605.7 1986.7,1605.1 C1990,1604.6 1992.7,1602.3 1995.8,1602.1 C1998.8,1601.9 2002,1603.8 2005,1603.6 C2008.1,1603.4 2010.9,1601.4 2014.1,1600.6 C2017.5,1599.8 2020.9,1599.1 2024.8,1599 C2029.4,1598.9 2034.9,1600.1 2040,1600.6 C2045.1,1601.1 2049.6,1601.8 2055.2,1602.1 C2062,1602.4 2070.5,1601.7 2078.1,1602.1 C2085.7,1602.5 2093.4,1603.6 2101,1604.4 C2108.6,1605.2 2115.6,1605.9 2123.8,1606.7 C2133.2,1607.6 2144.1,1608.8 2154.3,1609.7 C2164.5,1610.6 2174.6,1611.2 2184.8,1612" fill="none" stroke="#ff3a3a" stroke-width="6.8" stroke-linejoin="round" stroke-linecap="butt"/>
<path d="M264.5,1555 C265,1557.7 265.5,1559.3 266,1563 C267,1570.8 267.1,1599.9 268.2,1600 C269,1600 270.2,1590.3 271,1584 C272.1,1575.2 272.7,1562.7 273.4,1552 C274.1,1541.3 274.5,1530.7 275,1520 C275.5,1509.3 275.9,1499.2 276.6,1488 C277.3,1475.7 278.4,1449.1 279.2,1449.1 C279.9,1449.1 280.3,1469.6 281.3,1480 C282.3,1490.6 284,1502.1 285.3,1512 C286.4,1520.6 287.3,1529 288.5,1536 C289.4,1541.6 290.6,1551 291.5,1551 C292.4,1551 293.3,1541.6 294.1,1536 C295.1,1529 295.8,1521.6 296.5,1512 C297.6,1497.7 297.5,1472 299.5,1458.7 C300.7,1450.6 303,1447.7 304.3,1439.5 C306.5,1425.5 306,1382.1 307.9,1382 C309.7,1381.9 312.9,1432.3 315.1,1432.3 C317.3,1432.3 319.2,1399.7 321.1,1382 C323.2,1362.4 325.5,1341.1 327.1,1319.8 C328.8,1297.2 329.7,1277.2 330.8,1250 C332.3,1211.8 333.1,1156.4 334.2,1112 C335.2,1070.6 336.1,1035.5 337,992 C338.1,940 339.4,878 340.4,821 C341.4,764 342.1,706.9 342.8,650 C343.5,593.3 344.1,519.3 344.6,480 C344.9,459.1 345,432 345.3,432 C345.6,432 346.1,459.1 346.5,480 C347.2,519.3 348,593.2 348.5,650 C349,706.9 349.2,764 349.5,821 C349.8,878 350.1,940 350.5,992 C350.9,1035.5 351.4,1070.6 351.8,1112 C352.2,1156.4 352.5,1208.4 353,1250 C353.4,1284.2 354,1306.1 354.6,1343.7 C355.6,1400.8 356.7,1513.3 358.2,1559.3 C358.9,1581 358.8,1607.1 360.6,1607.2 C362,1607.3 363.3,1579.6 366.6,1578.4 C368.3,1577.8 370.4,1583.4 372.6,1583.2 C376.1,1582.9 380.2,1574 384.6,1568.9 C389.7,1562.9 397.7,1557.2 401.3,1549.7 C405,1542.1 404.8,1532.7 406.1,1523.4 C407.6,1512.9 408.1,1489.8 409.7,1489.8 C411.3,1489.8 412,1525 415.7,1525.7 C418.6,1526.3 424.7,1514.6 427.7,1506.6 C431.9,1495.4 432.5,1478.3 434.8,1463.5 C437.2,1448 440.2,1432.9 442,1415.6 C444.1,1395.3 444.9,1372.2 446,1349 C447.2,1323.8 448,1296.4 449,1270 C450,1243.4 451.2,1212.1 452,1190 C452.5,1174.4 452.9,1167.6 453.3,1150 C454,1115.9 454.2,1040.1 454.8,1000 C455.2,973.2 455.6,933 456,933 C456.4,933 456.8,975.4 457.3,1000 C457.9,1030 459,1072.4 459.5,1100 C459.9,1119.5 460,1129.1 460.3,1150 C460.8,1184.9 461.2,1245.2 462,1290 C462.8,1331.3 464,1374.3 464.9,1409 C465.6,1436 466.1,1481 466.9,1481 C467.7,1481 469,1436.9 469.9,1409 C471.1,1370.2 472,1314.6 472.9,1270 C473.7,1228.5 474.2,1192.2 474.9,1150 C475.7,1102.8 476.7,1047.5 477.5,1000 C478.3,957 479,877 479.7,877 C480.4,877 481.1,957 481.8,1000 C482.5,1047.5 483.3,1100.9 483.8,1150 C484.3,1197.5 484.1,1245.2 484.8,1290 C485.5,1331.3 486.9,1372 487.8,1409 C488.6,1441.4 489.3,1469.3 489.8,1500 C490.3,1531.4 490,1595.2 490.8,1595.2 C491.8,1595.2 494.5,1498.8 496,1450 C497.5,1400.4 498.6,1345.1 500,1300 C501.2,1263 502.6,1199 503.8,1199 C505,1199 506,1269.7 507,1300 C507.9,1324.8 508.3,1350.9 509.5,1367.7 C510.2,1377.7 511.1,1380.9 511.9,1391.6 C513.5,1413.6 512.3,1480.4 516.6,1492.2 C517.6,1495.1 519.2,1494.2 520.2,1497 C523.8,1506.9 522.6,1551 523.8,1571.3 C524.6,1585.4 523.5,1606.7 526.2,1607.2 C528.3,1607.6 532.8,1593.9 535.8,1588 C538.4,1582.9 540.4,1577.9 543,1573.7 C545.3,1570.1 547.7,1564.3 550.2,1564.1 C552.5,1563.9 555,1571.3 557.4,1571.3 C559.8,1571.3 562.5,1563.8 564.6,1564.1 C566.9,1564.4 568.4,1570.3 570.5,1573.7 C572.8,1577.5 575.5,1581.4 577.7,1585.6 C580,1590.1 581.7,1600 583.7,1600 C585.7,1600 588,1585.5 589.7,1585.6 C591.2,1585.7 591.4,1597.3 593.3,1597.6 C595.5,1597.9 599.5,1587.4 602.9,1583.2 C605.9,1579.5 609.8,1577.5 612.5,1573.7 C615.5,1569.6 617.4,1559.2 619.6,1559.3 C621.9,1559.4 623.5,1571.7 625.8,1576.5 C627.6,1580.3 629.5,1586.1 631.6,1586.2 C634,1586.3 637,1578.3 639.4,1574.6 C641.5,1571.3 643.4,1569.3 645.2,1564.9 C648.3,1557.3 650.8,1544.5 652.9,1531.9 C655.7,1515.3 657.3,1493.2 658.8,1473.8 C660.3,1454.5 660.8,1437.6 661.7,1415.7 C662.9,1387.1 664,1316.8 665,1316.8 C665.9,1316.8 666.7,1367.9 667.5,1396.3 C668.5,1429.2 669,1482.5 670.4,1502.9 C671,1511.2 671.3,1520.2 672.3,1520.3 C673.3,1520.4 675.1,1504.7 676.2,1504.8 C678,1504.9 678.9,1545.5 680.1,1545.5 C681.5,1545.5 682.2,1504.3 684,1493.2 C684.9,1487.9 685.6,1481.7 686.9,1481.6 C688,1481.5 689.6,1489.5 690.7,1489.3 C692.5,1489 692,1466.7 694.6,1466 C696.3,1465.5 699.4,1470.8 701.4,1473.8 C703.7,1477.2 705.1,1484.7 707.2,1485.4 C708.4,1485.8 710,1484.9 711.1,1483.5 C713.5,1480.4 713.8,1463.1 715.3,1463.1 C717,1463.1 719.1,1489.3 720.8,1489.3 C722.2,1489.3 723.6,1480.7 724.7,1473.8 C726.8,1460.7 727.3,1436.5 728.5,1415.7 C729.9,1391.7 731.2,1362.1 732.4,1338.1 C733.4,1317.3 734.5,1304.7 735.3,1280 C736.7,1236.5 737,1156.7 737.8,1100 C738.5,1049.3 739.3,956 740,956 C740.8,956 741.7,1049.3 742.3,1100 C743,1156.7 743,1222.2 744,1280 C744.9,1333.6 746.5,1388.2 747.9,1435 C749.1,1473.9 749.4,1514.5 751.8,1541.6 C753.3,1558.4 754.7,1571.4 757.6,1582.3 C759.7,1590.1 762.9,1601.9 765.3,1601.7 C768.2,1601.5 770.9,1581.4 773.1,1570.7 C775.4,1559.5 776.9,1535.8 778.9,1535.8 C780.8,1535.8 782.7,1568.8 784.7,1568.8 C786.6,1568.8 788.3,1549.6 790.5,1541.6 C792.3,1535.1 794.6,1524.1 796.4,1524.2 C798.5,1524.3 800.2,1540 802.2,1547.4 C804.1,1554.2 805,1564.5 808,1566.8 C809.6,1568 811.9,1567.5 813.8,1566.8 C816.2,1565.9 818.5,1562.6 821,1561 C823.3,1559.5 826.2,1559.4 828.2,1557.3 C830.8,1554.5 831.6,1545.3 833.7,1544.5 C834.9,1544.1 836.3,1546.9 837.4,1546.4 C839.8,1545.4 841.3,1528 842.8,1528.1 C844.3,1528.1 845.4,1537.8 846.5,1544.5 C848.3,1554.9 848.1,1584.1 851.1,1584.7 C852.8,1585 855.2,1576.6 857.4,1573.7 C859.2,1571.4 861.2,1570.9 862.9,1568.2 C865.8,1563.5 868.1,1554.2 870.2,1546.4 C872.5,1537.9 873.8,1527.2 875.7,1519 C877.2,1512.3 878.6,1504.4 880.3,1500.7 C881.2,1498.9 882.2,1496.9 883,1497.1 C884.4,1497.4 885.5,1504.9 886.6,1509.9 C888.1,1516.9 887.9,1534.8 890.3,1535.4 C891.7,1535.8 894.1,1527.8 895.8,1528.1 C898.6,1528.6 900.6,1551.6 903.1,1551.8 C904.9,1551.9 906.3,1543.8 908.5,1540.9 C910.3,1538.5 912.8,1537.7 914.9,1535.4 C917.6,1532.5 920.8,1529.1 923.1,1524.5 C926.3,1518.3 928.1,1509.2 930.4,1500.7 C933,1491.1 935.1,1479.3 937.7,1469.7 C940,1461.2 943,1454.8 945,1446 C947.5,1435.2 948.8,1422.9 950.5,1409.5 C952.6,1393.1 954.6,1373 956,1354.7 C957.4,1336.5 958,1320 958.7,1300 C959.6,1275.9 959.9,1244.9 960.5,1220 C961.1,1198.3 961.6,1159 962.3,1159 C963,1159 963.8,1198.3 964.5,1220 C965.3,1244.9 966.2,1271.2 966.9,1300 C967.7,1333.6 968.1,1372 968.8,1409.5 C969.6,1449.1 968.7,1531.5 971.5,1531.8 C972.7,1531.9 974.5,1509.9 976.1,1509.9 C977.8,1509.9 979.8,1533.6 981.5,1533.6 C983.5,1533.5 985.5,1513.9 987,1500.7 C989.2,1481.2 990,1446.3 991.6,1427.7 C992.6,1416.1 993.8,1399.5 994.7,1399.5 C996.1,1399.5 997.2,1440.8 998,1464.2 C999,1492 998.5,1530.9 999.8,1555.5 C1000.7,1572.2 1000.6,1589.5 1003.4,1597.4 C1004.7,1601 1006.3,1602.3 1008.2,1604.4 C1010.1,1606.5 1013,1610.4 1015,1609.8 C1018,1608.9 1019.7,1597.3 1021.9,1590.7 C1024.3,1583.7 1026.5,1576.3 1028.7,1568.8 C1031,1560.9 1033.6,1552.7 1035.6,1544.2 C1037.7,1535.4 1039.5,1526.4 1041,1516.8 C1042.7,1506.4 1042,1491 1045.1,1484 C1046.8,1480 1050,1478.3 1052,1475.8 C1053.6,1473.8 1054.6,1470.6 1056.1,1470.3 C1057.4,1470.1 1059.1,1473.5 1060.2,1473 C1063.1,1471.6 1062.1,1437.5 1062.9,1437.5 C1063.9,1437.5 1064.8,1471.4 1065.7,1489.4 C1066.7,1509.1 1066.2,1540.8 1068.4,1551 C1069.1,1554.5 1070.3,1557.9 1071.1,1557.8 C1072.5,1557.7 1073.5,1545.3 1074.6,1537.3 C1076.1,1526.3 1076.3,1498.2 1078.7,1497.6 C1079.7,1497.4 1081,1501.4 1082.1,1503.1 C1083,1504.6 1084,1507.4 1084.8,1507.2 C1086.5,1506.9 1087,1491.6 1088.9,1486.7 C1090.1,1483.7 1091.8,1479.8 1093,1479.9 C1094.6,1480.1 1095.9,1487.5 1097.1,1492.2 C1098.7,1498.4 1098.9,1508.2 1101.2,1514.1 C1103,1518.6 1105.8,1522.1 1108.1,1525 C1109.9,1527.3 1111.7,1528.2 1113.5,1530.5 C1115.9,1533.7 1118.4,1539.1 1120.4,1542.8 C1122,1545.8 1123.1,1551 1124.5,1551 C1125.9,1551 1126.8,1543.2 1128.6,1542.8 C1130.1,1542.4 1132.1,1546.4 1134.1,1546.9 C1136.2,1547.4 1139,1547 1140.9,1545.5 C1143.5,1543.4 1144.5,1537.2 1146.4,1533.2 C1148.2,1529.4 1150.2,1526.8 1151.8,1522.3 C1154.1,1515.8 1155.7,1507.1 1157.3,1497.6 C1159.5,1484.9 1160.9,1452.5 1162.8,1452.5 C1164.1,1452.5 1165.7,1466.4 1166.9,1475.8 C1168.7,1490.2 1169.3,1512.9 1171,1530.5 C1172.6,1547 1172.4,1570 1176.5,1578.4 C1178.3,1582.2 1180.7,1584.4 1183.3,1585.2 C1185.7,1586 1189.3,1584.5 1191.5,1583.8 C1193.2,1583.3 1194.1,1582 1195.7,1581.9 C1197.9,1581.7 1200.9,1583.8 1203.7,1584.2 C1206.6,1584.6 1210.2,1585.1 1212.8,1584.2 C1215.1,1583.4 1216.4,1581.5 1218.5,1579.6 C1221.2,1577.1 1224.5,1571.1 1227.6,1570.5 C1230.2,1570 1232.9,1572.6 1235.6,1573.9 C1238.6,1575.3 1241.3,1577.5 1244.7,1578.5 C1248.7,1579.6 1254.1,1580.1 1258.4,1579.6 C1262.4,1579.2 1266.1,1577.7 1269.8,1576.2 C1273.7,1574.7 1277.3,1571.4 1281.2,1570.5 C1284.9,1569.6 1288.8,1570 1292.6,1570.5 C1296.4,1571.1 1300.7,1573.1 1304,1573.9 C1306.6,1574.5 1308.7,1574.2 1310.9,1575.1 C1313.3,1576 1315.6,1579.7 1317.7,1579.6 C1319.7,1579.5 1321.7,1575.2 1323.4,1575.1 C1324.7,1575.1 1325.8,1577.7 1326.8,1577.4 C1328.4,1576.9 1328.2,1568 1330.3,1567.1 C1332.2,1566.3 1335.6,1570 1338.2,1570.5 C1340.5,1571 1342.9,1571.2 1345.1,1570.5 C1347.5,1569.8 1349.6,1566.1 1351.9,1566 C1354.2,1565.9 1356.5,1568.1 1358.8,1569.4 C1361.1,1570.7 1363.6,1574.3 1365.6,1573.9 C1367.9,1573.4 1369.1,1567.3 1371.3,1564.8 C1373.3,1562.5 1375.8,1559.9 1378.1,1559.1 C1380,1558.4 1382,1559.9 1383.8,1559.1 C1386.3,1558 1388.5,1553.7 1390.7,1551.1 C1392.7,1548.7 1394.6,1546.1 1396.4,1544.3 C1397.8,1542.9 1399.2,1542.2 1400.5,1541 C1401.9,1539.8 1403.4,1538.8 1404.6,1537 C1406.1,1534.7 1406.9,1531.2 1408,1528 C1409.2,1524.5 1410.5,1521.9 1411.4,1516.9 C1413.2,1507.4 1413.9,1490.5 1414.8,1474.6 C1416,1454.1 1416.6,1425.3 1417.5,1404 C1418.3,1386.5 1419.1,1356 1419.9,1356 C1420.7,1356 1421.5,1387.8 1422.2,1404 C1422.9,1420.7 1422.1,1454.4 1424.2,1454.8 C1425,1455 1426.4,1447.6 1427.3,1447.7 C1429,1448 1427.9,1476.4 1430.3,1477.4 C1431.2,1477.8 1432.8,1474.2 1433.7,1474.6 C1436.6,1475.8 1435.5,1505.5 1436.4,1516.9 C1437,1524.7 1437,1535.9 1438.4,1536.7 C1438.8,1536.9 1439.4,1535.8 1439.8,1536 C1441.4,1536.9 1441.5,1552.5 1442.5,1560 C1443.4,1566.7 1444,1572.6 1445.2,1579 C1446.4,1585.6 1448.5,1598.8 1449.9,1598.8 C1451.2,1598.8 1451.2,1585.7 1453.3,1581.8 C1454.7,1579.3 1456.8,1576.9 1458.6,1576.5 C1460,1576.2 1461.4,1578 1463,1577.9 C1464.9,1577.8 1467.2,1576.3 1469,1575 C1470.7,1573.8 1471.8,1570.9 1473.4,1570.5 C1474.8,1570.2 1476.4,1571.5 1477.9,1572" fill="none" stroke="#0868e0" stroke-width="6.8" stroke-linejoin="round" stroke-linecap="butt"/>
<path d="M1513,1523.2 C1514.5,1521.9 1515.8,1520.3 1517.5,1519.2 C1519.2,1518 1521.5,1517.8 1523.2,1516.4 C1525,1514.9 1526,1510.5 1527.8,1510.1 C1529.5,1509.8 1531.7,1513.8 1533.5,1513.5 C1535.6,1513.2 1537.2,1508.7 1539.2,1506.7 C1541,1504.9 1543.4,1504.6 1544.9,1502.1 C1547.6,1497.8 1546.9,1481.6 1549.5,1480.4 C1550.8,1479.8 1552.5,1481.8 1554,1482.7 C1555.6,1483.7 1557.3,1484.4 1558.6,1486.1 C1560.5,1488.5 1561.3,1495.9 1563.2,1496.4 C1564.5,1496.7 1566,1493.6 1567.7,1493 C1569.4,1492.4 1571.5,1492.3 1573.4,1493 C1575.7,1493.8 1577.7,1497.9 1580.3,1498.7 C1583,1499.5 1586.4,1498.7 1589.4,1497.5 C1592.9,1496 1596.8,1490 1599.6,1489.6 C1601.3,1489.3 1602.4,1491.4 1604.2,1491.3 C1606.8,1491.1 1609.9,1488 1613.3,1486.1 C1617.4,1483.8 1623.1,1479.2 1627,1478.7 C1629.6,1478.4 1631.6,1480.9 1633.8,1480.4 C1636.5,1479.8 1639.6,1475.7 1641.8,1473.6 C1643.5,1472 1644.3,1471.1 1646.1,1469.2 C1649.3,1465.9 1654.7,1459.7 1659,1455.5 C1662.9,1451.7 1666.7,1448.5 1670.5,1444.9 C1674.3,1441.4 1678,1437.4 1681.9,1434.2 C1685.6,1431.1 1689.6,1427.9 1693.3,1425.8 C1696.4,1424 1700,1421.9 1702.5,1422 C1704.3,1422.1 1705.5,1423 1707,1424.3 C1709.1,1426.2 1711.3,1431.5 1713.1,1433.4 C1714.2,1434.6 1714.8,1435.3 1716.2,1435.7 C1718.1,1436.3 1721.4,1434.9 1723.8,1435.7 C1726.5,1436.7 1728.9,1440.5 1731.4,1441.8 C1733.4,1442.8 1735.3,1443.5 1737.5,1443.3 C1740.3,1443.1 1743.8,1440.7 1746.7,1439.5 C1749.3,1438.4 1751.5,1437.4 1754.3,1436.5 C1757.5,1435.4 1761.4,1433.5 1765,1433.4 C1768.5,1433.3 1772.3,1434.4 1775.6,1435.7 C1778.9,1437 1781.5,1439.4 1784.8,1441 C1788.3,1442.7 1793.1,1443.5 1796.2,1445.6 C1798.9,1447.5 1800.4,1449.9 1802.6,1452.5 C1805.2,1455.7 1808,1459.9 1810.8,1463.4 C1813.5,1466.7 1816.4,1469.4 1819,1473 C1821.9,1477.1 1824.4,1482.5 1827.2,1486.7 C1829.8,1490.6 1832.7,1493.8 1835.4,1497.6 C1838.2,1501.6 1840.6,1506.1 1843.6,1510 C1846.6,1513.9 1850.2,1517.2 1853.2,1520.9 C1856.1,1524.5 1858.6,1528.9 1861.4,1531.8 C1863.7,1534.1 1866,1535.1 1868.3,1537.3 C1871,1540 1873.6,1544.1 1876.5,1546.9 C1879.1,1549.5 1882.1,1551.6 1884.7,1553.7 C1887.1,1555.6 1889.4,1558.5 1891.5,1559.2 C1892.9,1559.7 1894.3,1558.5 1895.6,1559.2 C1897.6,1560.2 1898.8,1565.2 1901.3,1567 C1903.8,1568.8 1907.7,1568.6 1910.5,1570.1 C1913.3,1571.6 1915.6,1574 1918.1,1576.2 C1920.7,1578.5 1923.3,1581.4 1925.7,1583.8 C1927.8,1585.9 1929.8,1587.7 1931.8,1589.9 C1933.9,1592.2 1935.3,1596.3 1937.9,1597.5 C1940.4,1598.7 1944,1597 1947,1597.5 C1950.1,1598 1953.3,1599.3 1956.2,1600.6 C1958.9,1601.8 1961.7,1603.4 1963.8,1605.1 C1965.6,1606.5 1966.1,1608.6 1968.4,1609.7 C1972.3,1611.5 1977.3,1610.8 1986.7,1611.2 C2017.5,1612.5 2118.8,1611.7 2184.8,1612" fill="none" stroke="#0868e0" stroke-width="6.8" stroke-linejoin="round" stroke-linecap="butt"/>
<path d="M1013.3,854.8 C1020.3,855.4 1027.2,857.1 1034.3,856.7 C1041.8,856.3 1050.4,852.7 1057,852 C1062.1,851.5 1065.6,852.7 1070.5,852 C1076.8,851.1 1083.6,847.5 1091.4,846.2 C1100.9,844.6 1113.4,845.6 1123.8,844.3 C1133.7,843 1143.4,840.1 1152.4,838.6 C1160.4,837.3 1166.4,837.3 1175.2,835.7 C1187.5,833.5 1207.3,826.9 1219,825.2 C1226.6,824.1 1231.7,825.4 1238,824.3 C1244.4,823.2 1250.8,820.9 1257.1,818.6 C1263.5,816.2 1269.8,812.7 1276.2,810 C1282.5,807.3 1288.6,805.7 1295.2,802.4 C1303.1,798.4 1313.1,792.9 1320,787.1 C1326.1,782 1330.5,776.9 1335.2,770 C1340.9,761.6 1346.4,750 1350.5,739.5 C1354.6,729 1357.1,717.5 1360,707 C1362.7,697.2 1365.3,689.4 1367.6,678.6 C1370.6,664.8 1372.5,648.1 1375.3,630.7 C1378.7,609.9 1383.7,585.2 1386.7,562.3 C1389.7,539.5 1391.2,516.6 1393.5,493.8 C1395.8,471 1397.6,444.9 1400.3,425.4 C1402.3,410.6 1403.7,394.9 1407.2,386.7 C1409.1,382.3 1411.6,377.4 1414,377.5 C1416.9,377.6 1420.2,385.7 1423.1,391.2 C1427.1,398.6 1429.7,412.3 1434.5,418.6 C1437.8,423 1441.6,426.2 1445.9,427.7 C1450,429.1 1455.7,426.4 1459.6,427.7 C1463.2,428.9 1466,431 1468.8,434.5 C1473.2,439.9 1476.8,449.8 1480.2,459.6 C1484.7,472.4 1487.7,489.1 1491.6,505.2 C1496,523.2 1500.2,545.2 1505.2,562.3 C1509.4,576.6 1512.4,591.5 1518.9,601 C1523.9,608.3 1532,610.5 1537.2,617 C1542.8,624 1546.6,632.1 1550.9,642.1 C1556.8,655.8 1561.4,678.4 1567.1,692.4 C1571.5,703.1 1575.3,712 1580.8,719.7 C1585.7,726.5 1592.3,730.7 1597.9,736.8 C1603.7,743.2 1610.1,750.1 1615,757.3 C1619.8,764.3 1622.8,771.7 1627,779.6 C1631.8,788.6 1636.4,800.6 1642.4,808.7 C1647.5,815.6 1652.4,823.1 1659.5,825.8 C1667,828.6 1679.8,821.1 1686.8,824 C1692.9,826.5 1696.1,833.9 1700.5,839.4 C1705.2,845.3 1708.2,853.5 1714.2,858.3 C1720.6,863.4 1731.2,866.2 1738.1,868.5 C1743.2,870.2 1747,869.6 1751.8,871.9 C1758.2,875 1765.8,882.1 1772.3,887.3 C1778.5,892.2 1784.8,901.4 1790,902 C1793.7,902.4 1796.5,898.8 1800,897 C1803.8,895 1807.6,891.7 1811.8,890.7 C1816,889.7 1820.8,891.4 1825.1,890.7 C1829.2,890.1 1832.5,887.3 1836.9,887 C1842.5,886.7 1849.8,890.1 1856.1,890.7 C1862.1,891.3 1868.2,891 1873.8,890.7 C1879,890.4 1883.5,888.4 1888.6,889.2 C1894.7,890.1 1901.3,896.9 1907.8,897.4 C1914.1,897.8 1919.7,892.4 1927,892.2 C1936.4,891.9 1949.8,899.2 1959.4,898.8 C1967.1,898.5 1972.7,894.3 1980.1,892.9 C1988.3,891.3 1998,891.1 2006.7,890 C2015.2,888.9 2024.4,886 2031.8,886.3 C2037.8,886.5 2042,889.3 2048,890 C2055.4,890.8 2065.5,890.8 2073.1,890 C2079.6,889.3 2085.9,886.4 2090.8,886.3 C2094.3,886.2 2096.7,887.3 2099.7,887.8" fill="none" stroke="#4d4d4d" stroke-width="7.4" stroke-linejoin="round" stroke-linecap="butt"/>
<path d="M1013.3,807.1 C1020.3,807.4 1027.3,808.3 1034.3,808 C1041.3,807.7 1048.6,805.3 1055.2,805.2 C1061.2,805.1 1066.3,807 1072.4,807.1 C1079.5,807.2 1087.4,806.7 1095.2,805.2 C1103.8,803.5 1112.6,799.2 1121.9,796.7 C1131.7,794.1 1142.4,792.3 1152.4,790 C1162.1,787.8 1172.5,786 1181,783.3 C1188.1,781.1 1193,778.2 1200,775.7 C1208.5,772.7 1219.6,770.7 1228.6,767.1 C1237.3,763.7 1245.9,758.7 1253.3,754.8 C1259.6,751.5 1264.7,748.8 1270.5,745.2 C1276.8,741.3 1284,736.8 1289.5,731.9 C1294.7,727.3 1299.1,722.3 1302.9,716.7 C1306.8,710.9 1309.6,704.5 1312.4,697.6 C1315.4,690 1317.7,682.3 1320,672.9 C1322.9,660.8 1324.7,646.5 1327.4,630.7 C1330.8,610.6 1335,585.1 1338.8,562.3 C1342.6,539.5 1345.7,513.3 1350.2,493.8 C1353.6,479 1357,465.4 1361.6,455.1 C1365,447.6 1368.8,442.1 1373,436.8 C1376.8,432 1381.8,423.8 1385.5,424.3 C1389.4,424.8 1392.9,434.2 1395.8,441.4 C1400,451.9 1401.8,467.6 1404.9,482.4 C1408.6,499.8 1412.1,522.4 1416.3,539.5 C1419.8,553.7 1423.5,577.7 1427.7,578.2 C1430.5,578.5 1434,569.2 1436.8,562.3 C1441.3,551.2 1444.2,531.2 1448.2,516.6 C1451.9,503.1 1455.5,485.7 1459.6,477.9 C1461.7,473.9 1463.7,469.9 1466,469.9 C1468.9,469.9 1472.6,476.7 1475.6,482.4 C1480.6,491.9 1484.5,509.5 1489.3,523.5 C1494.4,538.3 1499.2,556.1 1505.2,569.1 C1510.1,579.7 1515.1,589.5 1521.2,596.5 C1526.1,602.1 1532.2,609.4 1537.2,609 C1542.1,608.6 1546.5,600.1 1550.9,594.2 C1556.4,586.9 1561.7,568.3 1566.8,568 C1570.7,567.8 1574.4,576.7 1578.2,582.8 C1583.5,591.2 1589.6,614.7 1594.2,614.7 C1597.7,614.7 1600.6,604 1603.3,596.5 C1607.1,585.7 1609.1,567 1612.4,555.4 C1614.9,546.6 1617.6,532.7 1620.4,532.6 C1623,532.5 1626.1,542.9 1628.4,550.9 C1632.4,564.5 1634.8,588.9 1637.5,607.9 C1640.2,626.9 1642.5,650.6 1644.4,664.9 C1645.6,673.5 1646,677.8 1647.5,685.5 C1649.5,695.5 1652.6,709.2 1656,719.7 C1659,729 1662.7,736.6 1666.3,745.4 C1670.1,754.8 1674.3,763.9 1678.3,774.4 C1682.9,786.5 1687.6,802.1 1692,813.8 C1695.5,823.3 1697.8,832.3 1702.2,839.4 C1706,845.6 1711.2,854.5 1715.9,854.8 C1720.3,855.1 1724.7,846.8 1729.6,842.9 C1734.9,838.8 1741.5,830.9 1746.7,830.9 C1751.1,830.9 1755,835.4 1758.7,839.4 C1763.7,844.7 1767.7,854.3 1772.3,861.7 C1776.8,869.1 1781.2,878.9 1786,883.9 C1789.3,887.3 1792.5,890.5 1796.3,890.7 C1800.9,890.9 1807.1,884.5 1811.8,882.6 C1815.5,881.1 1818.2,881.1 1822.1,879.6 C1827.6,877.4 1834.3,871.8 1841.3,870 C1848.9,868.1 1858.3,869 1866.4,869.3 C1874,869.6 1881.4,869.9 1888.6,871.5 C1895.7,873.1 1902.3,879 1909.2,878.9 C1916.1,878.8 1922.3,871.7 1929.9,870.8 C1938.7,869.8 1950.9,875.6 1959.4,875.2 C1966.1,874.9 1971.4,871.1 1977.1,870.8 C1982.2,870.6 1986.8,873.4 1991.9,873 C1997.6,872.5 2003.4,868.3 2009.6,867.1 C2016.2,865.8 2023.7,865.6 2030.3,865.6 C2036.4,865.6 2042.5,867.9 2048,867.1 C2053.3,866.3 2057.1,862.7 2062.8,861.2 C2070,859.3 2081.1,857.8 2087.9,857.5 C2092.6,857.3 2095.8,858 2099.7,858.2" fill="none" stroke="#ff3a3a" stroke-width="7.4" stroke-linejoin="round" stroke-linecap="butt"/>
<path d="M1013.3,799.5 C1020.9,800.5 1028.7,802.4 1036.2,802.4 C1043.3,802.4 1050.7,799.7 1057.1,799.5 C1062.6,799.3 1067,800.6 1072.4,800.5 C1078.4,800.4 1084.8,799.9 1091.4,798.6 C1098.7,797.2 1107,793.7 1114.3,791.9 C1120.9,790.3 1126.9,789.2 1133.3,788.1 C1139.6,787 1146.1,786.9 1152.4,785.2 C1158.8,783.4 1164.9,779.2 1171.4,777.6 C1177.7,776.1 1184.1,776.3 1190.5,775.7 C1196.8,775.1 1203.2,775 1209.5,773.8 C1215.9,772.5 1222.2,769.9 1228.6,768.1 C1234.9,766.4 1240.6,765.1 1247.6,763.3 C1256.2,761.1 1267.6,757.5 1276.2,755.7 C1283.1,754.3 1288.5,754.7 1295.2,752.9 C1303,750.8 1312.5,747.3 1320,743.3 C1327,739.6 1332.9,735.1 1339,730 C1345.6,724.5 1352,717.4 1358.1,711 C1364.1,704.7 1370,698.4 1375.2,691.9 C1380.1,685.7 1384.4,680.2 1388.6,672.9 C1393.7,664.1 1398.6,653.6 1402.6,642.1 C1407.3,628.6 1410.7,612.6 1414,596.5 C1417.7,578.6 1420.2,559.4 1423.1,539.5 C1426.3,517.7 1429.2,493.8 1432.3,471 C1435.3,448.2 1438.2,424.3 1441.4,402.6 C1444.3,382.7 1445.6,360.2 1450.5,345.6 C1453.8,335.6 1459,321.8 1463.1,321.7 C1466.6,321.6 1470.5,331.3 1473.3,338.8 C1477.7,350.5 1479.5,369.7 1482.4,386.7 C1485.7,405.9 1488.6,427.1 1491.6,448.2 C1494.7,470.4 1497,497.8 1500.7,516.6 C1503.4,530.1 1505.8,542.6 1509.8,550.9 C1512.4,556.4 1515.5,563 1518.9,563.4 C1522.3,563.8 1526.5,557 1530.3,553.1 C1534.5,548.7 1538.9,538.3 1542.9,538.3 C1546.5,538.3 1550.1,545.2 1553.1,550.9 C1557.8,559.6 1559.9,577 1564.5,587.3 C1568.3,595.6 1572,606.6 1577.4,608.6 C1581.8,610.2 1587.3,604.3 1592.8,603.4 C1598.9,602.4 1607.2,600.8 1612.4,603.3 C1617.3,605.6 1620.5,611.1 1623.5,617.1 C1627.7,625.6 1629.3,639.6 1632.1,651.3 C1635,663.5 1637.8,676.4 1640.6,688.9 C1643.5,701.5 1645.3,716.4 1649.2,726.6 C1652.1,734.2 1654.8,742.6 1659.5,745.4 C1663.2,747.6 1668.8,743.8 1673.1,745.4 C1678,747.2 1682.7,752 1686.8,757.3 C1692.1,764.2 1695.9,775.7 1700.5,784.7 C1705,793.4 1709.3,801.6 1714.2,810.4 C1719.5,819.8 1725.5,830.7 1731.3,839.4 C1736.4,847 1741,854.1 1746.7,860 C1751.9,865.4 1758,868.9 1763.8,873.6 C1769.9,878.6 1777.1,888.4 1782.6,889 C1786.4,889.4 1789.7,887 1792.9,883.9 C1797.9,879.2 1802.5,864.1 1806.5,860 C1808.4,858.1 1809.5,857.6 1811.8,856.8 C1815.1,855.6 1820.2,855.8 1825.1,854.5 C1831.6,852.8 1840.2,848.7 1847.2,846.4 C1853.4,844.4 1858.8,841.7 1865,841.3 C1871.6,840.8 1878.8,842.8 1885.6,844.2 C1892.5,845.7 1899.5,850.6 1906.3,850.1 C1913.3,849.6 1920.9,842 1927,840.5 C1931.4,839.4 1934.4,839.2 1938.8,839.8 C1944.8,840.6 1952.4,846.5 1959.4,846.4 C1966.7,846.3 1975.5,838.9 1981.6,838.3 C1985.6,837.9 1987.8,839.8 1991.9,839.8 C1997.9,839.7 2007.1,838 2014.1,836.1 C2020.8,834.3 2026.9,830.4 2033.2,828.7 C2039.2,827.1 2045.9,825.9 2051,825.8 C2054.9,825.7 2057.6,826.2 2061.3,827.2 C2065.9,828.4 2071.2,832.7 2076.1,833.1 C2080.6,833.5 2085.2,831.1 2089.3,830.2 C2093,829.4 2096.2,828.7 2099.7,828" fill="none" stroke="#0868e0" stroke-width="7.4" stroke-linejoin="round" stroke-linecap="butt"/>
<g stroke="#000" stroke-width="5.5" fill="none" stroke-linecap="butt">
<path d="M1479.6,63.1 L262.2,63.1 M262.2,60.4 L262.2,1615.7 L1479.6,1615.7"/>
<path d="M1512.6,63.1 L2188.8,63.1 L2188.8,1615.7 L1512.6,1615.7"/>
<path d="M259.4,63.1 H264.9 M2186.1,63.1 H2191.6"/>
<path d="M259.4,1615.7 H264.9 M2186.1,1615.7 H2191.6"/>
<path stroke-width="5.3" d="M532.6,1615.7 V1585.2 M532.6,63.1 V93.6 M803,1615.7 V1585.2 M803,63.1 V93.6 M1073.4,1615.7 V1585.2 M1073.4,63.1 V93.6 M1343.8,1615.7 V1585.2 M1343.8,63.1 V93.6 M1648,1615.7 V1585.2 M1648,63.1 V93.6 M1918.4,1615.7 V1585.2 M1918.4,63.1 V93.6 M397.4,1615.7 V1600.7 M397.4,63.1 V78.1 M667.8,1615.7 V1600.7 M667.8,63.1 V78.1 M938.2,1615.7 V1600.7 M938.2,63.1 V78.1 M1208.6,1615.7 V1600.7 M1208.6,63.1 V78.1 M1783.2,1615.7 V1600.7 M1783.2,63.1 V78.1 M2053.6,1615.7 V1600.7 M2053.6,63.1 V78.1 M262.2,1333.4 H292.7 M2188.8,1333.4 H2158.3 M262.2,1051.1 H292.7 M2188.8,1051.1 H2158.3 M262.2,768.8 H292.7 M2188.8,768.8 H2158.3 M262.2,486.5 H292.7 M2188.8,486.5 H2158.3 M262.2,204.2 H292.7 M2188.8,204.2 H2158.3 M262.2,1474.5 H277.2 M2188.8,1474.5 H2173.8 M262.2,1192.2 H277.2 M2188.8,1192.2 H2173.8 M262.2,910 H277.2 M2188.8,910 H2173.8 M262.2,627.6 H277.2 M2188.8,627.6 H2173.8 M262.2,345.3 H277.2 M2188.8,345.3 H2173.8"/>
<path stroke-width="4.8" d="M1462,93.4 L1496.6,32.8 M1495,93.4 L1529.6,32.8 M1462,1646 L1496.6,1585.4 M1495,1646 L1529.6,1585.4"/>
</g>
<g stroke="#000" stroke-width="2.8" fill="none">
<path d="M1012.6,137.3 V931.3 H2100.6"/>
<path d="M1012.6,931.5 H1027.1 M1012.6,799.4 H1027.1 M1012.6,667.2 H1027.1 M1012.6,535 H1027.1 M1012.6,402.9 H1027.1 M1012.6,270.8 H1027.1 M1012.6,138.6 H1027.1 M1012.6,865.4 H1020.1 M1012.6,733.3 H1020.1 M1012.6,601.1 H1020.1 M1012.6,469 H1020.1 M1012.6,336.8 H1020.1 M1012.6,204.7 H1020.1 M1012.8,931.3 V916.8 M1375,931.3 V916.8 M1737.1,931.3 V916.8 M2099.2,931.3 V916.8 M1193.9,931.3 V923.8 M1556,931.3 V923.8 M1918.2,931.3 V923.8"/>
</g>
<g font-family="Liberation Sans, Arial, sans-serif" font-size="67" fill="#000">
<text transform="translate(228.5,1636.1) scale(0.985,1.054)" text-anchor="end">0.0</text>
<text transform="translate(228.5,1353.8) scale(0.985,1.054)" text-anchor="end">0.1</text>
<text transform="translate(228.5,1071.5) scale(0.985,1.054)" text-anchor="end">0.2</text>
<text transform="translate(228.5,789.2) scale(0.985,1.054)" text-anchor="end">0.3</text>
<text transform="translate(228.5,506.9) scale(0.985,1.054)" text-anchor="end">0.4</text>
<text transform="translate(228.5,224.6) scale(0.985,1.054)" text-anchor="end">0.5</text>
<text transform="translate(262.2,1700.5) scale(0.985,1.054)" text-anchor="middle">400</text>
<text transform="translate(532.6,1700.5) scale(0.985,1.054)" text-anchor="middle">800</text>
<text transform="translate(803,1700.5) scale(0.985,1.054)" text-anchor="middle">1200</text>
<text transform="translate(1073.4,1700.5) scale(0.985,1.054)" text-anchor="middle">1600</text>
<text transform="translate(1343.8,1700.5) scale(0.985,1.054)" text-anchor="middle">2000</text>
<text transform="translate(1648,1700.5) scale(0.985,1.054)" text-anchor="middle">3200</text>
<text transform="translate(1918.4,1700.5) scale(0.985,1.054)" text-anchor="middle">3600</text>
<text transform="translate(2188.8,1700.5) scale(0.985,1.054)" text-anchor="middle">4000</text>
<text transform="translate(995.5,952.9) scale(0.985,1.054)" text-anchor="end">0.00</text>
<text transform="translate(995.5,820.8) scale(0.985,1.054)" text-anchor="end">0.02</text>
<text transform="translate(995.5,688.6) scale(0.985,1.054)" text-anchor="end">0.04</text>
<text transform="translate(995.5,556.4) scale(0.985,1.054)" text-anchor="end">0.06</text>
<text transform="translate(995.5,424.3) scale(0.985,1.054)" text-anchor="end">0.08</text>
<text transform="translate(995.5,292.1) scale(0.985,1.054)" text-anchor="end">0.10</text>
<text transform="translate(995.5,160) scale(0.985,1.054)" text-anchor="end">0.12</text>
<text transform="translate(1012.8,1001) scale(0.985,1.054)" text-anchor="middle">2050</text>
<text transform="translate(1375,1001) scale(0.985,1.054)" text-anchor="middle">2100</text>
<text transform="translate(1737.1,1001) scale(0.985,1.054)" text-anchor="middle">2150</text>
<text transform="translate(2099.2,1001) scale(0.985,1.054)" text-anchor="middle">2200</text>
</g>
<text font-family="Liberation Serif, Times New Roman, serif" font-size="95.5" fill="#000" text-anchor="middle" transform="translate(100.5,840) rotate(-90)">Absorbance</text>
<text font-family="Liberation Serif, Times New Roman, serif" font-size="97" fill="#000" x="1069" y="1848">ν <tspan dy="5.5">[</tspan><tspan dy="-5.5">cm</tspan><tspan font-size="64" dy="-40" dx="-3">−1</tspan><tspan dy="45.5">]</tspan></text>
</svg></body></html>
